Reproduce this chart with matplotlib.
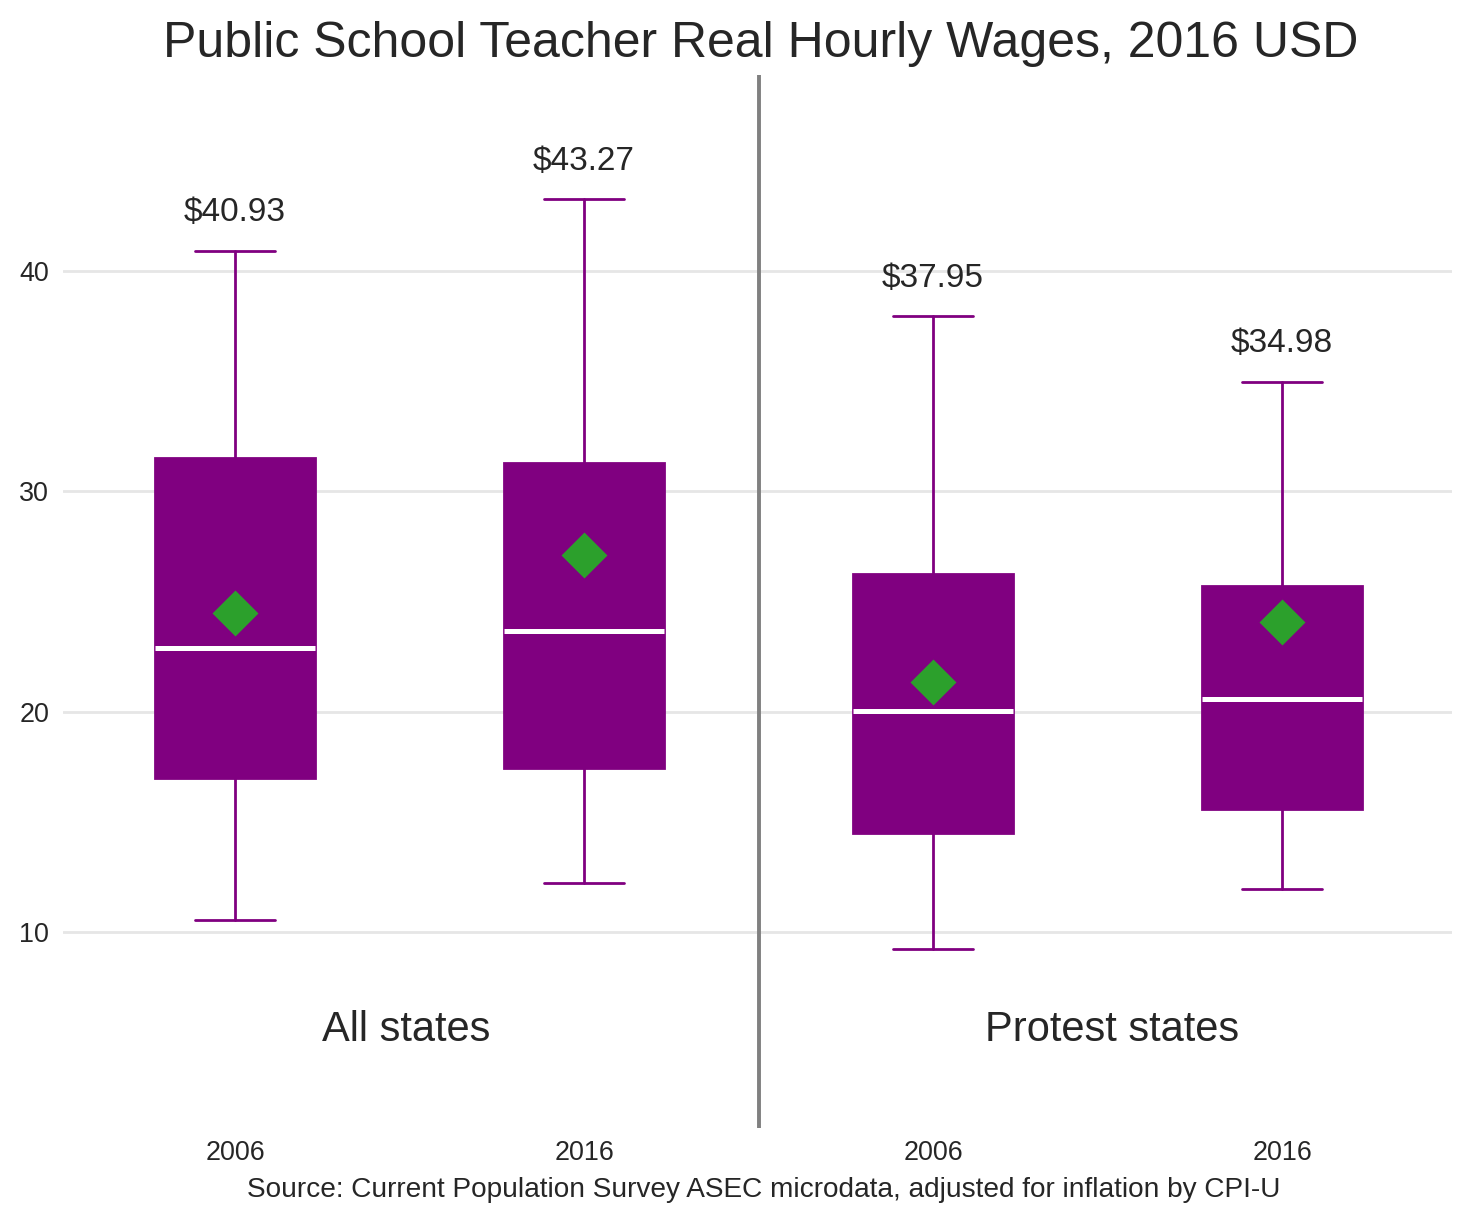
import matplotlib
matplotlib.use('Agg')
import matplotlib.pyplot as plt
import seaborn as sns

sns.set_style('whitegrid')
plt.rcParams['font.family'] = ['Liberation Sans', 'DejaVu Sans']

# box stats (2016 USD per hour)
labels = ['2006', '2016', '2006', '2016']
whislo = [10.54, 12.22, 9.23, 11.97]
q1 = [17.0, 17.46, 14.47, 15.6]
med = [22.9, 23.67, 20.05, 20.59]
q3 = [31.5, 31.27, 26.26, 25.71]
whishi = [40.93, 43.27, 37.95, 34.98]
means = [24.49, 27.12, 21.36, 24.08]
groups = ['All states', 'Protest states']

purple = '#800080'

stats = []
for i in range(len(labels)):
    stats.append({'whislo': whislo[i], 'q1': q1[i], 'med': med[i], 'q3': q3[i],
                  'whishi': whishi[i], 'mean': means[i], 'fliers': [], 'label': labels[i]})

fig = plt.figure(figsize=(7.375, 6.115), dpi=200)
ax = fig.add_axes([0.0427, 0.0777, 0.9417, 0.861])

pos = [1, 2, 3, 4]
ax.bxp(stats, positions=pos, widths=0.46, showmeans=True, patch_artist=True,
       boxprops=dict(facecolor=purple, edgecolor=purple, linewidth=1),
       whiskerprops=dict(color=purple, linewidth=1),
       capprops=dict(color=purple, linewidth=1),
       medianprops=dict(color='white', linewidth=1.8),
       meanprops=dict(marker='D', markerfacecolor='#2ca02c', markeredgecolor='#2ca02c',
                      markersize=10.5))

# max wage above each top whisker
for p, top in zip(pos, whishi):
    ax.annotate('$%.2f' % top, (p, top), xytext=(0, 8), textcoords='offset points',
                ha='center', va='bottom', fontsize=12, color='#262626')

ax.axvline(2.5, color='grey', linewidth=1.4)
ax.text(1.49, 5.55, groups[0], ha='center', va='center', fontsize=15, color='#262626')
ax.text(3.513, 5.55, groups[1], ha='center', va='center', fontsize=15, color='#262626')

ax.set_xlim(0.507, 4.487)
ax.set_ylim(1.1, 48.9)
ax.set_yticks([10, 20, 30, 40])
ax.set_xticks(pos)
ax.set_xticklabels(labels)
ax.tick_params(axis='both', labelsize=9.7, colors='#262626', length=0)
ax.tick_params(axis='x', pad=4.5)
ax.tick_params(axis='y', pad=5)
ax.xaxis.grid(False)
ax.yaxis.grid(True, color='#e6e6e6', linewidth=1)
for s in ax.spines.values():
    s.set_visible(False)

fig.text(0.516, 0.964, 'Public School Teacher Real Hourly Wages, 2016 USD',
         ha='center', va='center', fontsize=18, color='#262626')
fig.text(0.518, 0.027, 'Source: Current Population Survey ASEC microdata, adjusted for inflation by CPI-U',
         ha='center', va='center', fontsize=10.1, color='#262626')

fig.savefig('out.png', dpi=200)
